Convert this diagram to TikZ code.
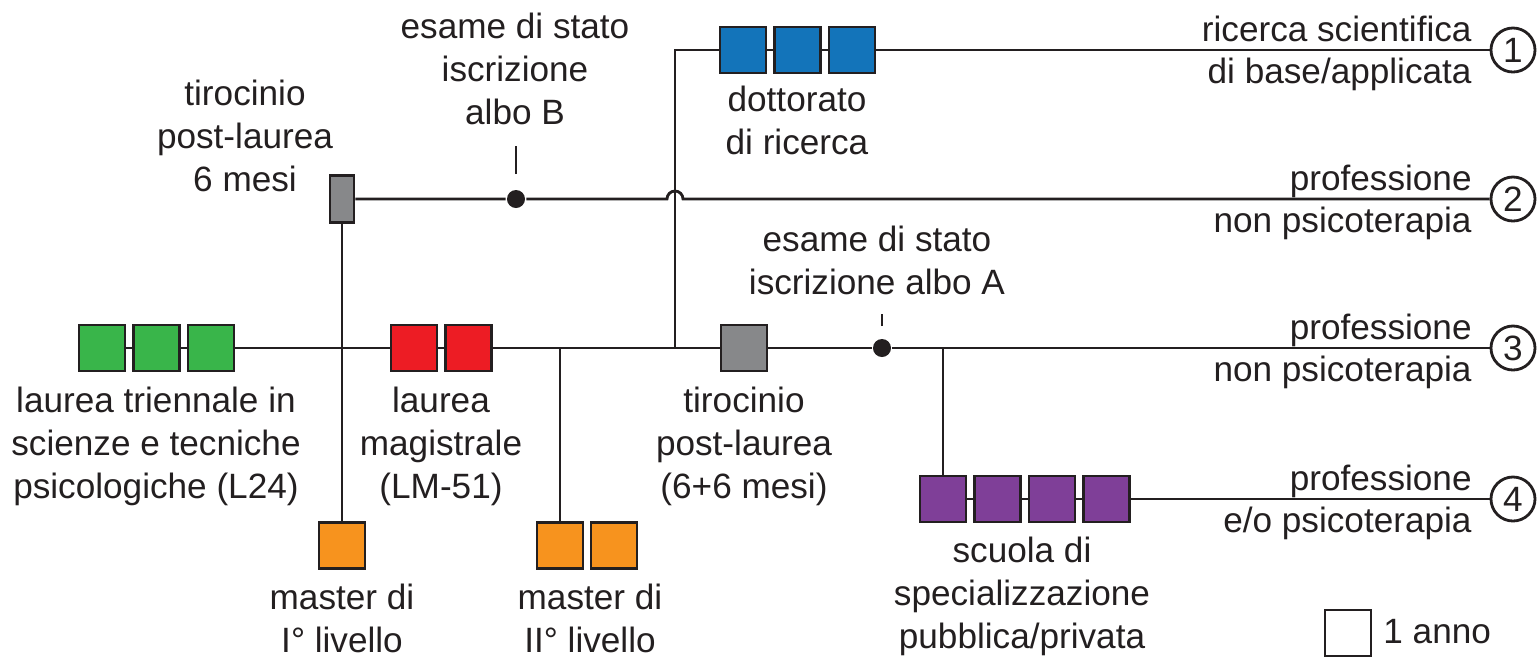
\documentclass[tikz,border=0pt]{standalone}
\usepackage{fontspec}
\setmainfont{Liberation Sans}
\definecolor{ink}{HTML}{231F20}
\definecolor{verde}{HTML}{39B54A}
\definecolor{rosso}{HTML}{ED1C24}
\definecolor{blu}{HTML}{1374BA}
\definecolor{arancio}{HTML}{F7931E}
\definecolor{viola}{HTML}{7F3F98}
\definecolor{grigio}{HTML}{87888A}
\begin{document}
\begin{tikzpicture}[x=0.01cm,y=-0.01cm,line width=0.8pt,color=ink,
		font=\fontsize{10}{12.2}\selectfont,
		anno/.style={draw,minimum size=0.46cm,inner sep=0pt},
		punto/.style={circle,fill,minimum size=0.18cm,inner sep=0pt},
		esito/.style={circle,draw,minimum size=0.44cm,inner sep=0pt},
		lab/.style={align=center,anchor=north,inner sep=0pt}]
	\useasboundingbox (0,0) rectangle (1538,656);
	% anni di corso
	\foreach \i in {1,...,3}{\node[anno,fill=verde] (g\i) at ({47.5+54.5*\i},348) {};}
	\foreach \i in {1,2}{\node[anno,fill=rosso] (r\i) at ({359.5+54.5*\i},348) {};}
	\foreach \i in {1,...,3}{\node[anno,fill=blu] (d\i) at ({688.5+54.5*\i},50) {};}
	\foreach \i in {1,...,4}{\node[anno,fill=viola] (s\i) at ({888.5+54.5*\i},499) {};}
	\node[anno,fill=grigio] (t2) at (744,348) {};
	\node[anno,fill=grigio,minimum width=0.24cm,minimum height=0.47cm] (t1) at (342,199) {};
	\node[anno,fill=arancio] (m1) at (342,545.5) {};
	\node[anno,fill=arancio] (m2) at (560,545.5) {};
	\node[anno,fill=arancio] (m3) at (614,545.5) {};
	\node[punto] (b) at (516,199) {};
	\node[punto] (a) at (882,348) {};
	\coordinate (j3) at (675,348);
	% sbocchi
	\foreach \n/\y/\su/\giu in {1/50/ricerca scientifica/{di base/applicata},2/199/professione/non psicoterapia,
		3/348/professione/non psicoterapia,4/499/professione/{e/o psicoterapia}}{
		\node[esito] (c\n) at (1513,\y) {\n};
		\node[anchor=base east,inner sep=0pt] at ({1473},{\y-9}) {\su};
		\node[anchor=base east,inner sep=0pt] at ({1473},{\y+33}) {\giu};
	}
	% percorsi
	\draw (g1) -- (g2) -- (g3) -- (r1) -- (r2) -- (t2) -- (a) -- (c3);
	\draw (d1) -- (d2) -- (d3) -- (c1);
	\draw (s1) -- (s2) -- (s3) -- (s4) -- (c4);
	\draw (t1) -- (m1);
	\draw (t1) -- (b) -- (667,199) arc[start angle=180,end angle=0,radius=0.08cm] -- (c2);
	\draw (j3) |- (d1);
	\draw (m2) -- (m2 |- g1);
	\draw (s1) -- (s1 |- a);
	\draw (b) ++(0,-25) -- ++(0,-28);
	\draw (a) ++(0,-22) -- ++(0,-12);
	% etichette
	\node[lab] at (245,79) {tirocinio\\post-laurea\\6 mesi};
	\node[lab] at (515,12) {esame di stato\\iscrizione\\albo B};
	\node[lab] at (797,85) {dottorato\\di ricerca};
	\node[lab] at (877,225) {esame di stato\\iscrizione albo A};
	\node[lab] at (156,386) {laurea triennale in\\scienze e tecniche\\psicologiche (L24)};
	\node[lab] at (441,386) {laurea\\magistrale\\(LM-51)};
	\node[lab] at (744,386) {tirocinio\\post-laurea\\(6+6 mesi)};
	\node[lab] at (342,583) {master di\\I° livello};
	\node[lab] at (590,583) {master di\\II° livello};
	\node[lab] at (1022,536) {scuola di\\specializzazione\\pubblica/privata};
	% legenda
	\node[anno] (leg) at (1348,633) {};
	\node[anchor=base west,inner sep=0pt] at (1382,643) {1 anno};
\end{tikzpicture}
\end{document}
